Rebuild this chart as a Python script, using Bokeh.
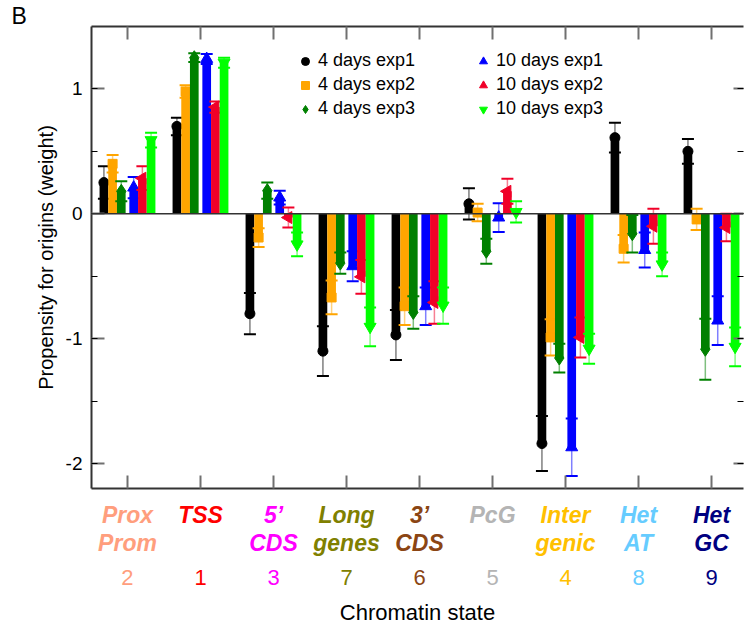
import math

from bokeh.core.properties import value
from bokeh.embed import file_html
from bokeh.layouts import column
from bokeh.models import (ColumnDataSource, FixedTicker, Label, Legend,
                          LegendItem, LinearAxis, Range1d, Span)
from bokeh.plotting import figure
from bokeh.resources import INLINE

FONT = "Liberation Sans"

# Chromatin states, in plotting order
cat_line1 = ["Prox", "TSS", "5\u2019", "Long", "3\u2019", "PcG", "Inter", "Het", "Het"]
cat_line2 = ["Prom", "", "CDS", "genes", "CDS", "", "genic", "AT", "GC"]
state_numbers = ["2", "1", "3", "7", "6", "5", "4", "8", "9"]
state_colors = ["#FF9E7D", "#FF0000", "#FF00FF", "#808000", "#8B4513",
                "#B4B4B4", "#FFC000", "#66CCFF", "#000080"]

# Propensity (weight) and error per experiment
d4_exp1 = [0.25, 0.70, -0.80, -1.10, -0.97, 0.08, -1.84, 0.61, 0.50]
d4_exp1_err = [0.13, 0.07, 0.165, 0.20, 0.20, 0.125, 0.22, 0.12, 0.10]
d4_exp2 = [0.40, 0.98, -0.19, -0.67, -0.74, 0.01, -0.99, -0.28, -0.045]
d4_exp2_err = [0.07, 0.05, 0.075, 0.135, 0.15, 0.07, 0.145, 0.11, 0.085]
d4_exp3 = [0.18, 1.25, 0.185, -0.395, -0.79, -0.30, -1.155, -0.16, -1.085]
d4_exp3_err = [0.08, 0.035, 0.065, 0.085, 0.13, 0.10, 0.115, 0.15, 0.245]
d10_exp1 = [0.21, 1.24, 0.13, -0.42, -0.74, -0.03, -1.87, -0.29, -0.855]
d10_exp1_err = [0.085, 0.04, 0.055, 0.12, 0.15, 0.115, 0.23, 0.14, 0.195]
d10_exp2 = [0.285, 0.855, -0.03, -0.505, -0.71, 0.18, -0.99, -0.10, -0.11]
d10_exp2_err = [0.095, 0.045, 0.08, 0.135, 0.17, 0.10, 0.16, 0.14, 0.11]
d10_exp3 = [0.59, 1.21, -0.245, -0.905, -0.735, 0.015, -1.08, -0.405, -1.065]
d10_exp3_err = [0.06, 0.04, 0.095, 0.155, 0.145, 0.085, 0.12, 0.095, 0.155]

y_ticks = [-2, -1, 0, 1]
y_tick_labels = ["-2", "-1", "0", "1"]

series = [
    ("4 days exp1", d4_exp1, d4_exp1_err, "#000000", "circle", 0.0, 10),
    ("4 days exp2", d4_exp2, d4_exp2_err, "#FFA500", "square", 0.0, 9),
    ("4 days exp3", d4_exp3, d4_exp3_err, "#008000", "diamond", 0.0, 14),
    ("10 days exp1", d10_exp1, d10_exp1_err, "#0000FF", "triangle", 0.0, 12),
    ("10 days exp2", d10_exp2, d10_exp2_err, "#F00028", "triangle", math.pi / 2, 12),
    ("10 days exp3", d10_exp3, d10_exp3_err, "#00FF00", "inverted_triangle", 0.0, 12),
]
offsets = [-0.323, -0.204, -0.085, 0.085, 0.204, 0.323]
bar_w = 0.119

x_range = Range1d(0.507, 9.438)
p = figure(width=744, height=490, output_backend="svg", toolbar_location=None,
           x_range=x_range, y_range=Range1d(-2.2, 1.5),
           min_border_left=91, min_border_right=1, min_border_top=26,
           min_border_bottom=2, x_axis_location=None, y_axis_location=None)
p.xgrid.visible = False
p.ygrid.visible = False
p.outline_line_color = None

# panel letter
p.title.text = "B"
p.title.text_font = FONT
p.title.text_font_size = "23px"
p.title.text_font_style = "normal"
p.title.text_color = "#000000"
p.title.align = "left"
p.title.offset = -80
p.title.standoff = -5

cat_x = list(range(1, len(cat_line1) + 1))
y_ticker = FixedTicker(ticks=y_ticks, minor_ticks=[-2, -1.5, -1, -0.5, 0, 0.5, 1])
x_ticker = FixedTicker(ticks=cat_x, minor_ticks=[])


def style_axis(ax, labels):
    ax.axis_line_color = "#333333"
    ax.axis_line_width = 2
    ax.major_tick_in = 13
    ax.major_tick_out = 0
    ax.major_tick_line_color = "#707070"
    ax.major_tick_line_width = 2
    ax.minor_tick_in = 6
    ax.minor_tick_out = 0
    ax.minor_tick_line_color = "#000000"
    ax.minor_tick_line_width = 1
    ax.major_label_text_font = FONT
    ax.major_label_text_font_size = "19px"
    ax.major_label_text_color = "#000000"
    ax.major_label_overrides = labels


left = LinearAxis(ticker=y_ticker, axis_label="Propensity for origins (weight)")
style_axis(left, dict(zip(y_ticks, y_tick_labels)))
left.major_label_standoff = 9
left.axis_label_standoff = 6
left.axis_label_text_font = FONT
left.axis_label_text_font_size = "20px"
left.axis_label_text_font_style = "normal"
left.axis_label_text_color = "#000000"
p.add_layout(left, "left")

right = LinearAxis(ticker=y_ticker)
style_axis(right, {t: "" for t in y_ticks})
right.axis_line_color = None
right.major_tick_in = 10
right.major_label_standoff = 0
p.add_layout(right, "right")

for loc in ("below", "above"):
    ax = LinearAxis(ticker=x_ticker)
    style_axis(ax, {c: "" for c in cat_x})
    ax.major_label_standoff = 0
    p.add_layout(ax, loc)

p.add_layout(Span(location=0, dimension="width", line_color="#333333", line_width=1.5))

legend_items = []
for (name, vals, errs, color, marker, angle, msize), off in zip(series, offsets):
    src = ColumnDataSource(dict(
        x=[c + off for c in cat_x],
        val=vals,
        hi=[v + e for v, e in zip(vals, errs)],
        lo=[v - e for v, e in zip(vals, errs)],
    ))
    p.segment(x0="x", y0="lo", x1="x", y1="hi", source=src,
              line_color=color, line_alpha=0.5, line_width=1.5)
    p.vbar(x="x", bottom=0, top="val", width=bar_w, source=src,
           fill_color=color, line_color=None)
    for key in ("hi", "lo"):
        p.scatter(x="x", y=key, marker="dash", size=12, source=src,
                  line_color=color, line_width=2)
    r = p.scatter(x="x", y="val", marker=marker, size=msize, angle=angle,
                  source=src, fill_color=color, line_color=color)
    legend_items.append(LegendItem(label=name, renderers=[r]))


def make_legend(items, loc):
    return Legend(items=items, location=loc, orientation="vertical",
                  glyph_width=20, glyph_height=20, label_height=20, spacing=3,
                  padding=0, margin=0, border_line_color=None,
                  background_fill_alpha=0, label_text_font=FONT,
                  label_text_font_size="18px", label_text_color="#000000",
                  label_standoff=3)


p.add_layout(make_legend(legend_items[:3], (204, 369)))
p.add_layout(make_legend(legend_items[3:], (382, 369)))

# Chromatin-state labels, on a strip sharing the x range (y counts pixels down)
q = figure(width=744, height=136, output_backend="svg", toolbar_location=None,
           x_range=x_range, y_range=Range1d(136, 0),
           min_border_left=91, min_border_right=1, min_border_top=0,
           min_border_bottom=0, x_axis_location=None, y_axis_location=None)
q.xgrid.visible = False
q.ygrid.visible = False
q.outline_line_color = None

lab_src = ColumnDataSource(dict(x=cat_x, l1=cat_line1, l2=cat_line2,
                                num=state_numbers, color=state_colors,
                                y1=[24] * 9, y2=[52] * 9, y3=[87] * 9))
for field, yfield, style, size in (("l1", "y1", "bold italic", "23px"),
                                   ("l2", "y2", "bold italic", "23px"),
                                   ("num", "y3", "normal", "22px")):
    q.text(x="x", y=yfield, text=field, source=lab_src, text_color="color",
           text_font=value(FONT), text_font_size=value(size),
           text_font_style=style, text_align="center", text_baseline="middle")

q.add_layout(Label(x=326, y=122, x_units="screen", text="Chromatin state",
                   text_font=FONT, text_font_size="22px", text_color="#000000",
                   text_align="center", text_baseline="middle"))

layout = column(p, q, spacing=0)
open("out.html", "w").write(file_html(layout, INLINE))
